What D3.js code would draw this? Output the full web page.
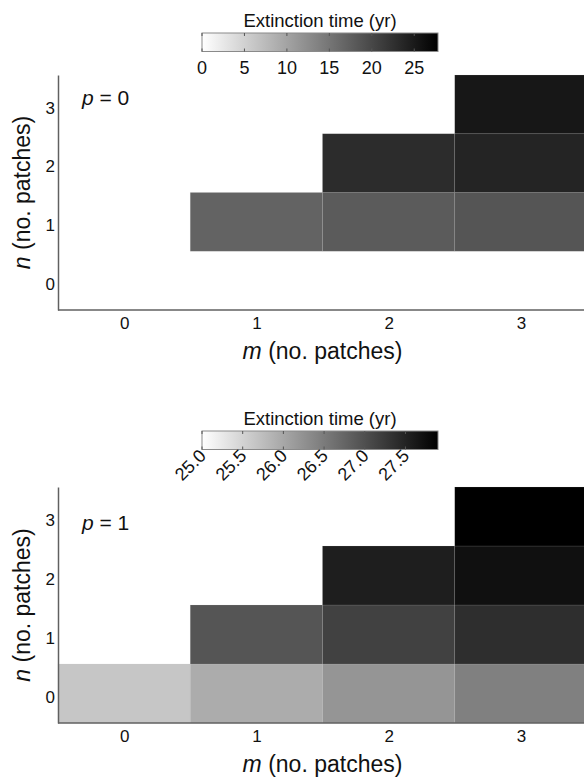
<!DOCTYPE html>
<html><head><meta charset="utf-8">
<script src="https://cdn.jsdelivr.net/npm/d3@7"></script>
<style>body{margin:0;background:#fff}svg{display:block;font-family:"Liberation Sans",Arial,Helvetica,sans-serif}</style>
</head><body><svg id="c" width="584" height="778"></svg>
<script>
const mVals = [0, 1, 2, 3];
const nVals = [0, 1, 2, 3];
// rows indexed by n (0..3), columns by m (0..3); null = no cell
const timesP0 = [
  [null, null, null, null],
  [null, 17.0, 17.9, 18.5],
  [null, null, 23.0, 23.9],
  [null, null, null, 25.3]
];
const timesP1 = [
  [25.65, 25.94, 26.21, 26.44],
  [null, 26.93, 27.16, 27.38],
  [null, null, 27.56, 27.72],
  [null, null, null, 27.9]
];
const climP0 = [0, 27.8];
const climP1 = [25.0, 27.9];
const ticksP0 = [0, 5, 10, 15, 20, 25];
const ticksP1 = [25.0, 25.5, 26.0, 26.5, 27.0, 27.5];
const panelLabels = ["p = 0", "p = 1"];

const svg = d3.select("#c");
const defs = svg.append("defs");
const grad = defs.append("linearGradient").attr("id", "gbar").attr("x1", "0%").attr("x2", "100%");
grad.append("stop").attr("offset", "0%").attr("stop-color", "#fff");
grad.append("stop").attr("offset", "100%").attr("stop-color", "#000");

const axisCol = "#606060";

function panel(cfg) {
  const { top, bottom, data, clim, ticks, label, cbY, rotate, fmt, pY } = cfg;
  const x = d3.scaleLinear().domain([-0.5, 3.5]).range([58, 587]);
  const y = d3.scaleLinear().domain([-0.5, 3.5]).range([bottom, top]);
  const col = d3.scaleLinear().domain(clim).range(["#ffffff", "#000000"]).clamp(true);
  const g = svg.append("g");

  const cells = [];
  data.forEach((row, ni) => row.forEach((v, mi) => { if (v !== null) cells.push({ m: mVals[mi], n: nVals[ni], v }); }));
  g.selectAll("rect.cell").data(cells).join("rect").attr("class", "cell")
    .attr("x", d => x(d.m - 0.5)).attr("y", d => y(d.n + 0.5))
    .attr("width", d => x(d.m + 0.5) - x(d.m - 0.5))
    .attr("height", d => y(d.n - 0.5) - y(d.n + 0.5))
    .attr("fill", d => col(d.v))
    .attr("stroke", "#c8c8c8").attr("stroke-width", 0.6).attr("stroke-opacity", 0.22);

  // axes
  const xa = g.append("g").attr("transform", `translate(0,${bottom})`)
    .call(d3.axisBottom(x).tickValues(mVals).tickSize(0).tickPadding(6).tickFormat(d3.format("d")));
  xa.select(".domain").attr("stroke", axisCol).attr("stroke-width", 1.5).attr("d", `M58,0H584`);
  xa.selectAll("text").attr("font-size", 17).attr("fill", "#111").attr("dy", null).attr("y", 19);
  const ya = g.append("g").attr("transform", "translate(58,0)")
    .call(d3.axisLeft(y).tickValues(nVals).tickSize(0).tickPadding(3).tickFormat(d3.format("d")));
  ya.select(".domain").attr("stroke", axisCol).attr("stroke-width", 1.5);
  ya.selectAll("text").attr("font-size", 17).attr("fill", "#111").attr("dy", "0.52em");

  // axis labels
  const yl = g.append("text").attr("transform", `translate(30,${(top + bottom) / 2}) rotate(-90)`)
    .attr("text-anchor", "middle").attr("font-size", 23).attr("fill", "#111");
  yl.append("tspan").attr("font-style", "italic").text("n");
  yl.append("tspan").text(" (no. patches)");
  const xl = g.append("text").attr("x", 322.5).attr("y", bottom + 49)
    .attr("text-anchor", "middle").attr("font-size", 23).attr("fill", "#111");
  xl.append("tspan").attr("font-style", "italic").text("m");
  xl.append("tspan").text(" (no. patches)");

  // panel label
  const pl = g.append("text").attr("x", 82).attr("y", pY).attr("font-size", 21).attr("fill", "#111");
  pl.append("tspan").attr("font-style", "italic").text(label.split(" ")[0]);
  pl.append("tspan").text(" " + label.split(" ").slice(1).join(" "));

  // colorbar
  const cx = d3.scaleLinear().domain(clim).range([202, 438]);
  const cb = g.append("g");
  cb.append("text").attr("x", 320).attr("y", cbY - 6).attr("text-anchor", "middle")
    .attr("font-size", 18.5).attr("fill", "#111").text("Extinction time (yr)");
  cb.append("rect").attr("x", 202).attr("y", cbY).attr("width", 236).attr("height", 18.5)
    .attr("fill", "url(#gbar)").attr("stroke", "#8a8a8a").attr("stroke-width", 1);
  cb.selectAll("line.tt").data(ticks).join("line").attr("class", "tt")
    .attr("x1", d => cx(d)).attr("x2", d => cx(d)).attr("y1", cbY).attr("y2", cbY + 3)
    .attr("stroke", "#555").attr("stroke-width", 1);
  cb.selectAll("line.tb").data(ticks).join("line").attr("class", "tb")
    .attr("x1", d => cx(d)).attr("x2", d => cx(d)).attr("y1", cbY + 15.5).attr("y2", cbY + 18.5)
    .attr("stroke", "#555").attr("stroke-width", 1);
  if (!rotate) {
    cb.selectAll("text.tl").data(ticks).join("text").attr("class", "tl")
      .attr("x", d => cx(d)).attr("y", cbY + 41).attr("text-anchor", "middle")
      .attr("font-size", 18).attr("fill", "#111").text(d => fmt(d));
  } else {
    cb.selectAll("text.tl").data(ticks).join("text").attr("class", "tl")
      .attr("transform", d => `translate(${cx(d) + 5},${cbY + 26}) rotate(-45)`)
      .attr("text-anchor", "end").attr("font-size", 18).attr("fill", "#111").text(d => fmt(d));
  }
}

panel({ top: 75, bottom: 310, data: timesP0, clim: climP0, ticks: ticksP0, label: panelLabels[0],
  cbY: 33, rotate: false, fmt: d3.format("d"), pY: 105 });
panel({ top: 487, bottom: 723, data: timesP1, clim: climP1, ticks: ticksP1, label: panelLabels[1],
  cbY: 431, rotate: true, fmt: d3.format(".1f"), pY: 530 });
</script></body></html>
